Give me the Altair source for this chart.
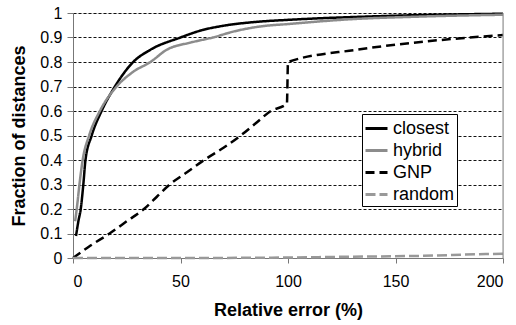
import altair as alt
import pandas as pd

series_names = ["closest", "hybrid", "GNP", "random"]

closest_x = [1.4, 2.5, 3.6, 4.8, 5.8, 8.7, 13.3, 19.5, 28, 36, 50, 60, 70, 87, 100, 146, 200]
closest_y = [0.09, 0.15, 0.2, 0.3, 0.4, 0.5, 0.6, 0.7, 0.8, 0.85, 0.9, 0.93, 0.948, 0.965, 0.972, 0.988, 0.997]

hybrid_x = [1, 2, 3, 4.5, 7.5, 12.5, 20.3, 28, 36, 43.6, 55, 65, 75, 87, 100, 130, 160, 200]
hybrid_y = [0.15, 0.22, 0.3, 0.4, 0.5, 0.6, 0.7, 0.76, 0.8, 0.85, 0.88, 0.9, 0.925, 0.945, 0.955, 0.975, 0.985, 0.993]

gnp_x = [0, 8, 17, 25, 33, 39, 45, 53, 61, 70, 78, 85, 92, 99.5, 100, 132, 163, 200]
gnp_y = [0, 0.05, 0.1, 0.15, 0.2, 0.25, 0.3, 0.35, 0.4, 0.45, 0.5, 0.55, 0.6, 0.63, 0.8, 0.85, 0.883, 0.91]

random_x = [0, 50, 100, 127, 163, 192, 200]
random_y = [0, 0, 0.002, 0.005, 0.009, 0.016, 0.017]

y_ticks = [0, 0.1, 0.2, 0.3, 0.4, 0.5, 0.6, 0.7, 0.8, 0.9, 1]
x_ticks = [0, 50, 100, 150, 200]
x_max = [200]

rows = []
for name, xs, ys in [("closest", closest_x, closest_y), ("hybrid", hybrid_x, hybrid_y),
                     ("GNP", gnp_x, gnp_y), ("random", random_x, random_y)]:
    for i, (a, b) in enumerate(zip(xs, ys)):
        rows.append({"series": name, "err": a, "frac": b, "idx": i})
df = pd.DataFrame(rows)

FONT = "Liberation Sans, Arial, sans-serif"

lines = alt.Chart(df).mark_line(strokeWidth=2.5, interpolate="monotone").encode(
    x=alt.X("err:Q", scale=alt.Scale(domain=[0, 200], nice=False),
            axis=alt.Axis(values=x_ticks, title="Relative error (%)", grid=False,
                          labelFontSize=16, labelFont=FONT, labelColor="#000",
                          tickSize=5, tickColor="#777", domainColor="#777", labelPadding=10,
                          titleFont=FONT, titleFontSize=18, titleFontWeight="bold", titleColor="#000",
                          titleY=52, titleBaseline="middle")),
    y=alt.Y("frac:Q", scale=alt.Scale(domain=[0, 1], nice=False),
            axis=alt.Axis(values=y_ticks, format="~g", title="Fraction of distances",
                          grid=True, gridColor="#111", gridDash=[3, 2], gridWidth=1,
                          labelFontSize=16, labelFont=FONT, labelColor="#000",
                          tickSize=6, tickColor="#777", domainColor="#777", labelPadding=5,
                          titleFont=FONT, titleFontSize=18, titleFontWeight="bold", titleColor="#000",
                          titleX=-54, titleY=122.5, titleAngle=-90, titleAlign="center",
                          titleBaseline="middle")),
    color=alt.Color("series:N", title=None,
                    scale=alt.Scale(domain=series_names, range=["#000000", "#8c8c8c", "#000000", "#999999"]),
                    legend=alt.Legend(orient="none", legendX=289, legendY=101,
                                      strokeColor="#000", fillColor="#fff", padding=2,
                                      symbolType="stroke", symbolSize=484, symbolStrokeWidth=3,
                                      labelFontSize=18, labelFont=FONT, labelColor="#000",
                                      rowPadding=0, labelOffset=4)),
    strokeDash=alt.StrokeDash("series:N", title=None,
                              scale=alt.Scale(domain=series_names,
                                              range=[[1, 0], [1, 0], [9, 5], [10, 4]])),
    order="idx:Q",
)

border = alt.Chart(pd.DataFrame({"x": x_max})).mark_rule(color="#888", strokeWidth=1).encode(
    x="x:Q"
)

chart = alt.layer(lines, border).properties(
    width=430, height=245,
    padding={"left": 73, "top": 13, "right": 13, "bottom": 67},
    autosize=alt.AutoSizeParams(type="none"),
).configure_view(stroke=None).configure(background="#ffffff", font=FONT)

chart.save("out.html", embed_options={"renderer": "svg", "actions": False})
